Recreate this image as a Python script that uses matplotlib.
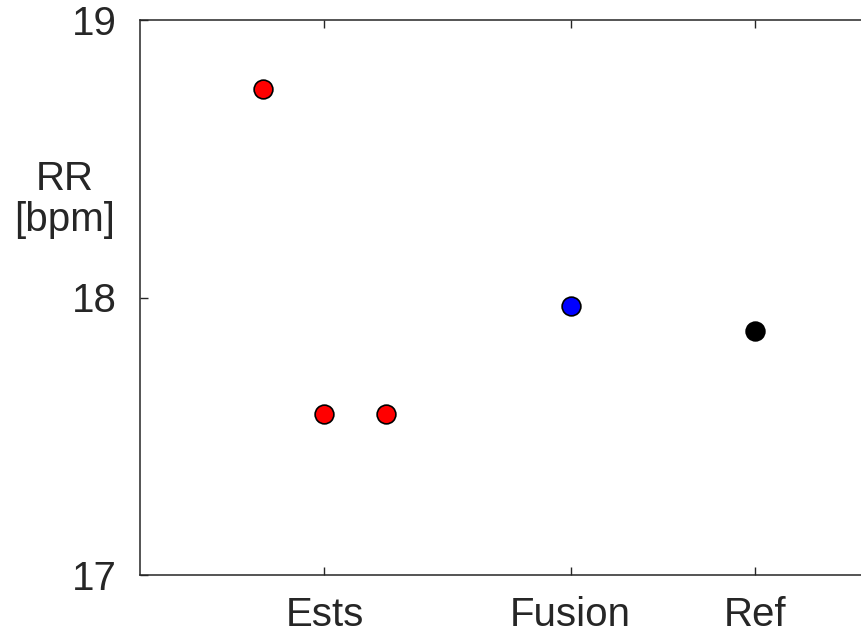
import matplotlib.pyplot as plt

# Respiratory rate estimates, their fusion and the reference value
est_x = [0.8, 1.0, 1.2]
est_rr = [18.75, 17.58, 17.58]
fusion_x = [1.8]
fusion_rr = [17.97]
ref_x = [2.4]
ref_rr = [17.88]

tick_pos = [1.0, 1.8, 2.4]
tick_labels = ['Ests', 'Fusion', 'Ref']
y_ticks = [17, 18, 19]

plt.rcParams['font.family'] = ['Liberation Sans', 'DejaVu Sans']
dark = '#262626'

fig = plt.figure(figsize=(8.62, 6.34), dpi=100)
ax = fig.add_axes([140 / 862, 59 / 634, 738 / 862, 555 / 634])

ax.plot(est_x, est_rr, 'o', color='red', markeredgecolor='black',
        markersize=13.5, markeredgewidth=1.2)
ax.plot(fusion_x, fusion_rr, 'o', color='blue', markeredgecolor='black',
        markersize=13.5, markeredgewidth=1.2)
ax.plot(ref_x, ref_rr, 'o', color='black', markeredgecolor='black',
        markersize=13.5, markeredgewidth=1.2)

ax.set_xlim(0.4, 2.8)
ax.set_ylim(17, 19)
ax.set_xticks(tick_pos)
ax.set_xticklabels(tick_labels)
ax.set_yticks(y_ticks)

ax.tick_params(direction='in', length=6, width=1, colors=dark,
               labelsize=29, top=True, right=True)
ax.tick_params(axis='x', pad=15)
ax.tick_params(axis='y', pad=17)
for sp in ax.spines.values():
    sp.set_color(dark)
    sp.set_linewidth(1.1)

ax.set_ylabel('RR\n[bpm]', rotation=0, fontsize=29, color=dark,
              ha='center', va='center', linespacing=1.1)
ax.yaxis.set_label_coords(-0.102, 0.676)

fig.savefig('out.png', dpi=100)
